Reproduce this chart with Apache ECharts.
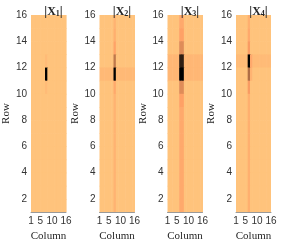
<!DOCTYPE html>
<html><head><meta charset="utf-8">
<script src="https://cdn.jsdelivr.net/npm/echarts@6/dist/echarts.min.js"></script>
<style>html,body{margin:0;padding:0;background:#fff}#c{width:287px;height:247px}</style>
</head><body><div id="c"></div>
<script>
// Panel titles (subscripts)
const panelTitles = ['1', '2', '3', '4'];
// Tick labels
const xTicks = [1, 5, 10, 16];
const yTicks = [2, 4, 6, 8, 10, 12, 14, 16];
// |X| magnitudes (0-100, relative per panel); rows listed from top (row 15..16) to bottom (row 1..2), 15 columns
const X1 = [
 [2,2,2,2,2,2,2,2,2,2,2,2,2,2,2],
 [2,2,2,2,2,2,2,2,2,2,2,2,2,2,2],
 [2,2,2,2,2,2,2,2,2,2,2,2,2,2,2],
 [2,2,2,2,2,2,6,2,2,2,2,2,2,2,2],
 [2,2,2,2,2,2,100,2,2,2,2,2,2,2,2],
 [2,2,2,2,2,2,6,2,2,2,2,2,2,2,2],
 [2,2,2,2,2,2,2,2,2,2,2,2,2,2,2],
 [2,2,2,2,2,2,2,2,2,2,2,2,2,2,2],
 [2,2,2,2,2,2,2,2,2,2,2,2,2,2,2],
 [2,2,2,2,2,2,2,2,2,2,2,2,2,2,2],
 [2,2,2,2,2,2,2,2,2,2,2,2,2,2,2],
 [2,2,2,2,2,2,2,2,2,2,2,2,2,2,2],
 [2,2,2,2,2,2,2,2,2,2,2,2,2,2,2],
 [2,2,2,2,2,2,2,2,2,2,2,2,2,2,2],
 [2,2,2,2,2,2,2,2,2,2,2,2,2,2,2]
];
const X2 = [
 [2,2,2,2,2,2,10,2,2,2,2,2,2,2,2],
 [2,2,2,2,2,2,12,2,2,2,2,2,2,2,2],
 [2,2,2,2,2,2,18,2,2,2,2,2,2,2,2],
 [2,2,2,2,2,2,40,2,2,2,2,2,2,2,2],
 [7,7,7,7,7,7,100,7,7,7,7,7,7,7,7],
 [2,2,2,2,2,2,15,2,2,2,2,2,2,2,2],
 [2,2,2,2,2,2,10,2,2,2,2,2,2,2,2],
 [2,2,2,2,2,2,10,2,2,2,2,2,2,2,2],
 [2,2,2,2,2,2,10,2,2,2,2,2,2,2,2],
 [2,2,2,2,2,2,10,2,2,2,2,2,2,2,2],
 [2,2,2,2,2,2,10,2,2,2,2,2,2,2,2],
 [2,2,2,2,2,2,10,2,2,2,2,2,2,2,2],
 [2,2,2,2,2,2,10,2,2,2,2,2,2,2,2],
 [2,2,2,2,2,2,10,2,2,2,2,2,2,2,2],
 [2,2,2,2,2,2,10,2,2,2,2,2,2,2,2]
];
const X3 = [
 [2,2,2,2,2,15,15,2,2,2,2,2,2,2,2],
 [2,2,2,2,2,19,19,2,2,2,2,2,2,2,2],
 [2,2,2,2,2,30,30,2,2,2,2,2,2,2,2],
 [8,8,8,8,8,85,85,8,8,8,8,8,8,8,8],
 [8,8,8,8,8,100,100,8,8,8,8,8,8,8,8],
 [2,2,2,2,2,30,30,2,2,2,2,2,2,2,2],
 [2,2,2,2,2,19,19,2,2,2,2,2,2,2,2],
 [2,2,2,2,2,15,15,2,2,2,2,2,2,2,2],
 [2,2,2,2,2,15,15,2,2,2,2,2,2,2,2],
 [2,2,2,2,2,15,15,2,2,2,2,2,2,2,2],
 [2,2,2,2,2,15,15,2,2,2,2,2,2,2,2],
 [2,2,2,2,2,15,15,2,2,2,2,2,2,2,2],
 [2,2,2,2,2,15,15,2,2,2,2,2,2,2,2],
 [2,2,2,2,2,15,15,2,2,2,2,2,2,2,2],
 [2,2,2,2,2,15,15,2,2,2,2,2,2,2,2]
];
const X4 = [
 [2,2,2,2,2,12,2,2,2,2,2,2,2,2,2],
 [2,2,2,2,2,15,2,2,2,2,2,2,2,2,2],
 [2,2,2,2,2,22,2,2,2,2,2,2,2,2,2],
 [6,6,6,6,6,100,15,6,6,6,6,6,6,6,6],
 [2,2,2,2,2,45,10,2,2,2,2,2,2,2,2],
 [2,2,2,2,2,22,2,2,2,2,2,2,2,2,2],
 [2,2,2,2,2,12,2,2,2,2,2,2,2,2,2],
 [2,2,2,2,2,12,2,2,2,2,2,2,2,2,2],
 [2,2,2,2,2,12,2,2,2,2,2,2,2,2,2],
 [2,2,2,2,2,12,2,2,2,2,2,2,2,2,2],
 [2,2,2,2,2,12,2,2,2,2,2,2,2,2,2],
 [2,2,2,2,2,12,2,2,2,2,2,2,2,2,2],
 [2,2,2,2,2,12,2,2,2,2,2,2,2,2,2],
 [2,2,2,2,2,12,2,2,2,2,2,2,2,2,2],
 [2,2,2,2,2,12,2,2,2,2,2,2,2,2,2]
];
const panels = [X1, X2, X3, X4];

// flipped copper colormap
const copperFlip = ['#FFC77F', '#FF9F65', '#BF784C', '#805033', '#402819', '#000000'];

const gridLefts = [31, 99.5, 167.5, 236];
const gridW = 35, gridTop = 15, gridH = 203;
const serif = '"Liberation Serif", "DejaVu Serif", serif';
const sans = '"Liberation Sans", Arial, sans-serif';

function toData(M) {
  const out = [];
  const n = M.length;
  for (let i = 0; i < n; i++) for (let j = 0; j < M[i].length; j++) out.push([j + 1, n - i, M[i][j]]);
  return out;
}

const chart = echarts.init(document.getElementById('c'), null, {renderer: 'canvas'});
const option = {
  backgroundColor: '#fff',
  animation: false,
  grid: gridLefts.map(l => ({left: l, top: gridTop, width: gridW, height: gridH})),
  title: gridLefts.map((l, k) => ({
    text: '{n||}{b|X}{s|' + panelTitles[k] + '}{n||}',
    left: l + gridW / 2, top: 0, textAlign: 'center',
    textStyle: {
      rich: {
        n: {fontFamily: serif, fontSize: 13, color: '#262626'},
        b: {fontFamily: serif, fontSize: 12, fontWeight: 'bold', color: '#262626'},
        s: {fontFamily: serif, fontSize: 8, color: '#262626', verticalAlign: 'bottom', padding: [4, 0, 0, 0]}
      }
    }
  })),
  xAxis: gridLefts.map((l, k) => ({
    gridIndex: k, type: 'value', min: 1, max: 16,
    name: 'Column', nameLocation: 'middle', nameGap: 14,
    nameTextStyle: {fontFamily: serif, fontSize: 11, color: '#262626'},
    axisLine: {show: true, lineStyle: {color: '#9a9a9a', width: 1}},
    axisTick: {show: false},
    splitLine: {show: false},
    axisLabel: {customValues: xTicks, fontFamily: sans, fontSize: 10, color: '#333', margin: 4}
  })),
  yAxis: gridLefts.map((l, k) => ({
    gridIndex: k, type: 'value', min: 1, max: 16,
    name: 'Row', nameLocation: 'middle', nameGap: 19, nameRotate: 90,
    nameTextStyle: {fontFamily: serif, fontSize: 11, color: '#262626'},
    axisLine: {show: false}, axisTick: {show: false}, splitLine: {show: false},
    axisLabel: {customValues: yTicks, fontFamily: sans, fontSize: 10, color: '#333', margin: 4}
  })),
  visualMap: {
    show: false, type: 'continuous', min: 0, max: 100, dimension: 2,
    seriesIndex: [0, 1, 2, 3], inRange: {color: copperFlip}
  },
  series: panels.map((M, k) => ({
    type: 'custom', xAxisIndex: k, yAxisIndex: k, clip: true,
    data: toData(M),
    encode: {x: 0, y: 1},
    renderItem: function (params, api) {
      const c = api.value(0), r = api.value(1);
      const p0 = api.coord([c, r + 1]);
      const p1 = api.coord([c + 1, r]);
      return {
        type: 'rect',
        shape: {x: p0[0], y: p0[1], width: p1[0] - p0[0] + 0.6, height: p1[1] - p0[1] + 0.6},
        style: {fill: api.visual('color')}
      };
    }
  }))
};
chart.setOption(option);
</script>
</body></html>
